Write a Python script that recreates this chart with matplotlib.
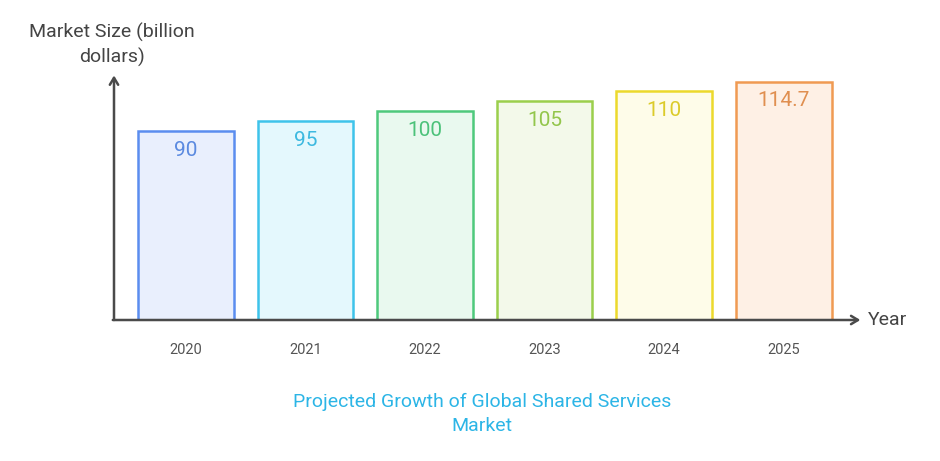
import matplotlib.pyplot as plt

plt.rcParams['font.family'] = ['Roboto', 'DejaVu Sans']

# Data
years = ["2020", "2021", "2022", "2023", "2024", "2025"]
market_size = [90, 95, 100, 105, 110, 114.7]
value_labels = ["90", "95", "100", "105", "110", "114.7"]

edge_colors = ["#5b8def", "#3ec3ea", "#4ec97c", "#9bcf4c", "#ecd92c", "#f09a52"]
fill_colors = ["#e9effd", "#e4f8fd", "#e9f9ef", "#f3f9ea", "#fefce9", "#fef0e5"]
text_colors = ["#5b8ae0", "#3db9e0", "#4cc27a", "#93c64c", "#dccb2a", "#e08f50"]

base = -4.5

fig = plt.figure(figsize=(9.4, 4.61), dpi=100)
ax = fig.add_axes([114 / 940, 1 - 320 / 461, (858 - 114) / 940, (320 - 76) / 461])

x = list(range(len(years)))
heights = [v - base for v in market_size]
ax.bar(x, heights, width=0.8, bottom=base, color=fill_colors,
       edgecolor=edge_colors, linewidth=1.8, zorder=2)

ax.set_xlim(-0.60, 5.62)
ax.set_ylim(base, 117.5)

for xi, v, lab, c in zip(x, market_size, value_labels, text_colors):
    ax.annotate(lab, (xi, v), xytext=(0, -7), textcoords="offset points",
                ha="center", va="top", fontsize=15, color=c, zorder=3)

for xi, yr in zip(x, years):
    ax.text(xi, -19.5, yr, ha="center", va="center", fontsize=10.5,
            color="#555555")

for s in ax.spines.values():
    s.set_visible(False)
ax.set_xticks([])
ax.set_yticks([])
ax.patch.set_alpha(0)

# axis arrows
ax.annotate("", xy=(-0.60, 117.8), xytext=(-0.60, base),
            arrowprops=dict(arrowstyle="->,head_length=0.5,head_width=0.3",
                            color="#4a4a4a", lw=1.8, shrinkA=0, shrinkB=0),
            annotation_clip=False)
ax.annotate("", xy=(5.64, base), xytext=(-0.61, base),
            arrowprops=dict(arrowstyle="->,head_length=0.5,head_width=0.3",
                            color="#4a4a4a", lw=1.8, shrinkA=0, shrinkB=0),
            annotation_clip=False, zorder=4)

fig.text(868 / 940, 1 - 320 / 461, "Year", ha="left", va="center",
         fontsize=14, color="#444444")
fig.text(112 / 940, 1 - 45 / 461, "Market Size (billion\ndollars)",
         ha="center", va="center", fontsize=14, color="#444444",
         linespacing=1.4)
fig.text(482 / 940, 1 - 414 / 461, "Projected Growth of Global Shared Services\nMarket",
         ha="center", va="center", fontsize=14, color="#2cb5e6",
         linespacing=1.4)

plt.savefig("out.png", dpi=100)
